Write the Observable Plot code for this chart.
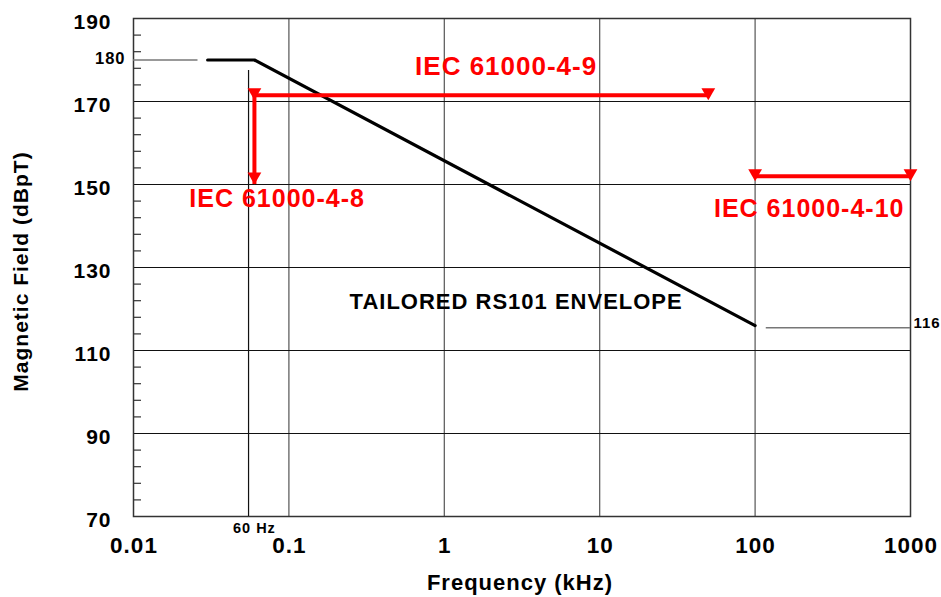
<!DOCTYPE html>
<html>
<head>
<meta charset="utf-8">
<script src="https://cdn.jsdelivr.net/npm/d3@7"></script>
<script src="https://cdn.jsdelivr.net/npm/@observablehq/plot@0.6"></script>
<style>
  body { margin: 0; background: #fff; }
  svg { font-family: "Liberation Sans", Arial, Helvetica, sans-serif; }
  svg text { letter-spacing: 1px; }
</style>
</head>
<body>
<div id="chart"></div>
<script>
// ---- Data ----
const envelopeFreq = [0.03, 0.06, 100];       // kHz
const envelopeLevel = [180, 180, 116];        // dBpT

const xTicks = [0.01, 0.1, 1, 10, 100, 1000];
const xTickLabels = ["0.01", "0.1", "1", "10", "100", "1000"];
const xGrid = [0.1, 1, 10, 100];
const yTicks = [70, 90, 110, 130, 150, 170, 190];
const yGrid = [90, 110, 130, 150, 170];
const yMinor = [74, 78, 82, 86, 94, 98, 102, 106, 114, 118, 122, 126,
                134, 138, 142, 146, 154, 158, 162, 166, 174, 178, 182, 186];

// IEC ranges (kHz, dBpT)
const iec48 = [{f: 0.06, top: 171.5, bottom: 150}];
const iec49 = [{f1: 0.06, f2: 50, level: 171.5}];
const iec410 = [{f1: 100, f2: 1000, level: 152}];

// reference lines
const refLines = [
  {f1: 0.01, f2: 0.026, level: 180},
  {f1: 118, f2: 1000, level: 115.5}
];
const sixtyHzLine = [{f: 0.055, low: 70, high: 177.5}];

// annotation labels (data units)
const redLabels = [
  {t: "IEC 61000-4-9", f: 2.5, v: 178.4, size: 26},
  {t: "IEC 61000-4-8", f: 0.084, v: 146.4, size: 25},
  {t: "IEC 61000-4-10", f: 223, v: 144.0, size: 25}
];
const blackLabels = [{t: "TAILORED RS101 ENVELOPE", f: 2.9, v: 121.7}];

const envelope = envelopeFreq.map((f, i) => ({f, v: envelopeLevel[i]}));
const arrowHeads49 = [{f: iec49[0].f1, v: iec49[0].level}, {f: iec49[0].f2, v: iec49[0].level}];
const arrowHeads410 = [{f: iec410[0].f1, v: iec410[0].level}, {f: iec410[0].f2, v: iec410[0].level}];
const arrowHeads48 = [{f: iec48[0].f, v: iec48[0].bottom}];

const triangleDown = {
  draw(ctx, size) {
    const y = Math.sqrt(size / (3 * Math.sqrt(3)));
    const s3 = Math.sqrt(3);
    ctx.moveTo(0, 2 * y);
    ctx.lineTo(-s3 * y, -y);
    ctx.lineTo(s3 * y, -y);
    ctx.closePath();
  }
};

const RED = "#ff0000";

const chart = Plot.plot({
  width: 941,
  height: 597,
  marginLeft: 133,
  marginRight: 31,
  marginTop: 18,
  marginBottom: 81,
  x: {type: "log", domain: [0.01, 1000], axis: null},
  y: {domain: [70, 190], axis: null},
  style: {background: "#fff", overflow: "visible", fontFamily: "'Liberation Sans', Arial, sans-serif"},
  marks: [
    Plot.ruleX(xGrid, {x: d => d, stroke: "#555", strokeWidth: 1.2}),
    Plot.ruleY(yGrid, {y: d => d, stroke: "#111", strokeWidth: 1}),
    Plot.axisY({ticks: yMinor, tickSize: -8, tickFormat: () => "", label: null, stroke: "#333", strokeWidth: 1.2}),
    Plot.frame({stroke: "#333", strokeWidth: 1.5}),
    // reference lines
    Plot.ruleY(refLines, {y: "level", x1: "f1", x2: "f2", stroke: "#777", strokeWidth: 1.5}),
    Plot.ruleX(sixtyHzLine, {x: "f", y1: "low", y2: "high", stroke: "#111", strokeWidth: 1.2}),
    // envelope
    Plot.line(envelope, {x: "f", y: "v", stroke: "#000", strokeWidth: 3.2}),
    // IEC ranges
    Plot.ruleY(iec49, {y: "level", x1: "f1", x2: "f2", stroke: RED, strokeWidth: 4}),
    Plot.ruleX(iec48, {x: "f", y1: "top", y2: "bottom", stroke: RED, strokeWidth: 4}),
    Plot.ruleY(iec410, {y: "level", x1: "f1", x2: "f2", stroke: RED, strokeWidth: 4}),
    Plot.dot(arrowHeads49, {x: "f", y: "v", symbol: triangleDown, r: 5.1, fill: RED, dy: -3}),
    Plot.dot(arrowHeads410, {x: "f", y: "v", symbol: triangleDown, r: 5.1, fill: RED, dy: -3}),
    Plot.dot(arrowHeads48, {x: "f", y: "v", symbol: triangleDown, r: 5.1, fill: RED, dy: -8}),
    // labels
    ...redLabels.map(l => Plot.text([l], {x: "f", y: "v", text: "t", fill: RED, fontSize: l.size, fontWeight: "bold", lineAnchor: "middle"})),
    Plot.text(blackLabels, {x: "f", y: "v", text: "t", fill: "#000", fontSize: 22, fontWeight: "bold", lineAnchor: "middle"}),
    Plot.text([{v: 180}], {y: "v", text: () => "180", frameAnchor: "left", textAnchor: "end", lineAnchor: "middle", dx: -8, dy: -1, fontSize: 16.5, fontWeight: "bold"}),
    Plot.text([{v: 116}], {y: "v", text: () => "116", frameAnchor: "right", textAnchor: "start", lineAnchor: "middle", dx: 3, dy: -2.5, fontSize: 15, fontWeight: "bold"}),
    Plot.text([{f: 0.06}], {x: "f", text: () => "60 Hz", frameAnchor: "bottom", textAnchor: "middle", lineAnchor: "middle", dy: 12, fontSize: 14.5, fontWeight: "bold"}),
    // tick labels
    Plot.text(yTicks, {y: d => d, text: d => String(d), frameAnchor: "left", textAnchor: "end", lineAnchor: "middle", dx: -22, dy: 4, fontSize: 21, fontWeight: "bold"}),
    Plot.text(xTicks, {x: d => d, text: (d, i) => xTickLabels[i], frameAnchor: "bottom", textAnchor: "middle", lineAnchor: "middle", dy: 29, dx: 0.5, fontSize: 22.5, fontWeight: "bold"}),
    // axis titles
    Plot.text(["Magnetic Field (dBpT)"], {text: d => d, frameAnchor: "left", textAnchor: "middle", lineAnchor: "middle", rotate: -90, dx: -112, dy: 4, fontSize: 21, fontWeight: "bold"}),
    Plot.text(["Frequency (kHz)"], {text: d => d, frameAnchor: "bottom", textAnchor: "middle", lineAnchor: "middle", dy: 66, dx: -2, fontSize: 22, fontWeight: "bold"})
  ]
});
document.getElementById("chart").appendChild(chart);
</script>
</body>
</html>
